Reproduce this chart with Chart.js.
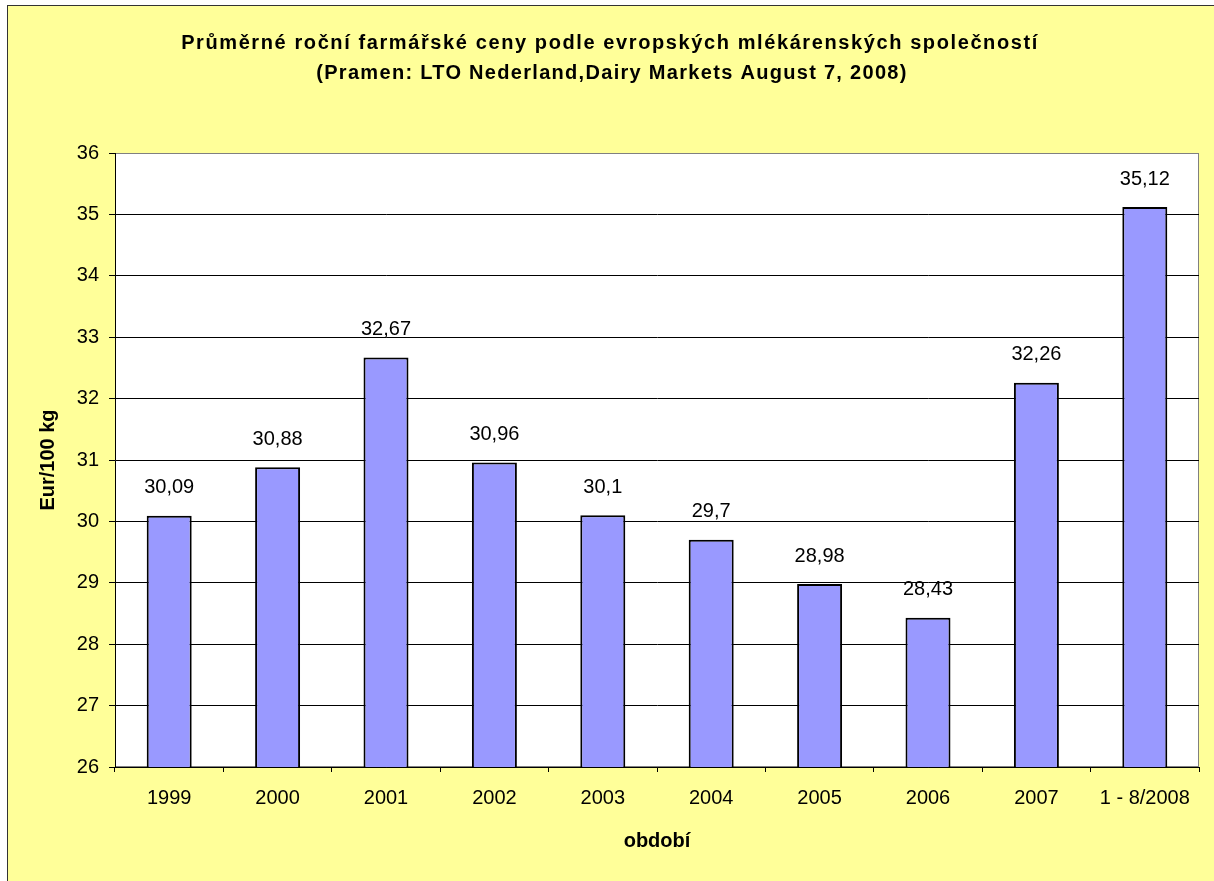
<!DOCTYPE html>
<html lang="cs">
<head>
<meta charset="UTF-8">
<title>Průměrné roční farmářské ceny</title>
<script src="https://cdn.jsdelivr.net/npm/chart.js@4.4.0/dist/chart.umd.min.js"></script>
<style>
  html, body { margin: 0; padding: 0; background: #fff; }
  #chart { display: block; }
</style>
</head>
<body>
<canvas id="chart" width="1214" height="881"></canvas>
<script>
// data
const categories = ['1999', '2000', '2001', '2002', '2003', '2004', '2005', '2006', '2007', '1 - 8/2008'];
const prices = [30.09, 30.88, 32.67, 30.96, 30.1, 29.7, 28.98, 28.43, 32.26, 35.12];
const yMin = 26;
const yMax = 36;
const yStep = 1;
const titleLines = [
    'Průměrné roční farmářské ceny podle evropských mlékárenských společností',
    '(Pramen: LTO Nederland,Dairy Markets August 7, 2008)'
];
const yTitle = 'Eur/100 kg';
const xTitle = 'období';

const FONT = '"Liberation Sans", Arial, sans-serif';

// yellow frame, white plot area and the two title lines
const framePlugin = {
    id: 'frame',
    beforeDraw(chart) {
        const { ctx, chartArea: a } = chart;
        ctx.save();
        ctx.fillStyle = '#fff';
        ctx.fillRect(0, 0, chart.width, chart.height);
        ctx.fillStyle = '#FFFF99';
        ctx.fillRect(7, 5, chart.width, chart.height);
        ctx.strokeStyle = '#333';
        ctx.lineWidth = 1;
        ctx.strokeRect(7.5, 5.5, chart.width + 20, chart.height + 20);
        ctx.fillStyle = '#fff';
        ctx.fillRect(a.left, a.top, a.right - a.left, a.bottom - a.top);
        ctx.strokeStyle = '#808080';
        ctx.strokeRect(a.left + 0.5, a.top + 0.5, a.right - a.left - 1, a.bottom - a.top - 1);
        ctx.restore();
    },
    afterDraw(chart) {
        const ctx = chart.ctx;
        ctx.save();
        ctx.fillStyle = '#000';
        ctx.font = 'bold 20px ' + FONT;
        ctx.textAlign = 'center';
        ctx.textBaseline = 'middle';
        ctx.letterSpacing = '1.6px';
        ctx.fillText(titleLines[0], 610, 43);
        ctx.letterSpacing = '1.3px';
        ctx.fillText(titleLines[1], 612, 73);
        ctx.restore();
    }
};

// value labels above the bars, with a decimal comma
const valueLabels = {
    id: 'valueLabels',
    afterDatasetsDraw(chart) {
        const ctx = chart.ctx;
        const meta = chart.getDatasetMeta(0);
        ctx.save();
        ctx.fillStyle = '#000';
        ctx.font = '20px ' + FONT;
        ctx.textAlign = 'center';
        ctx.textBaseline = 'middle';
        meta.data.forEach((bar, i) => {
            const text = String(prices[i]).replace('.', ',');
            ctx.fillText(text, bar.x, bar.y - 28);
        });
        ctx.restore();
    }
};

new Chart(document.getElementById('chart'), {
    type: 'bar',
    data: {
        labels: categories,
        datasets: [{
            data: prices,
            backgroundColor: '#9999FF',
            borderColor: '#000',
            borderWidth: 2,
            barPercentage: 0.415,
            categoryPercentage: 1
        }]
    },
    options: {
        responsive: false,
        animation: false,
        layout: { padding: { top: 153, right: 15, bottom: 0, left: 7 } },
        plugins: {
            legend: { display: false },
            tooltip: { enabled: false },
            title: { display: false }
        },
        scales: {
            x: {
                grid: {
                    display: true,
                    drawOnChartArea: false,
                    drawTicks: true,
                    tickLength: 5,
                    tickColor: '#000',
                    offset: true
                },
                border: { color: '#000', width: 1 },
                ticks: {
                    color: '#000',
                    font: { family: FONT, size: 20 },
                    padding: 14,
                    maxRotation: 0,
                    autoSkip: false
                },
                title: {
                    display: true,
                    text: xTitle,
                    color: '#000',
                    font: { family: FONT, size: 20, weight: 'bold' },
                    padding: { top: 0, bottom: 28 }
                },
                afterFit(scale) { scale.height = 114; }
            },
            y: {
                min: yMin,
                max: yMax,
                grid: {
                    color: (c) => c.tick && c.tick.value === yMax ? '#808080' : '#000',
                    tickColor: '#000',
                    tickLength: 6
                },
                border: { color: '#000', width: 1 },
                ticks: {
                    stepSize: yStep,
                    color: '#000',
                    font: { family: FONT, size: 20 },
                    padding: 10
                },
                title: {
                    display: true,
                    text: yTitle,
                    color: '#000',
                    font: { family: FONT, size: 20, weight: 'bold' },
                    padding: { top: 29, bottom: 0 }
                },
                afterFit(scale) { scale.width = 108; }
            }
        }
    },
    plugins: [framePlugin, valueLabels]
});
</script>
</body>
</html>
